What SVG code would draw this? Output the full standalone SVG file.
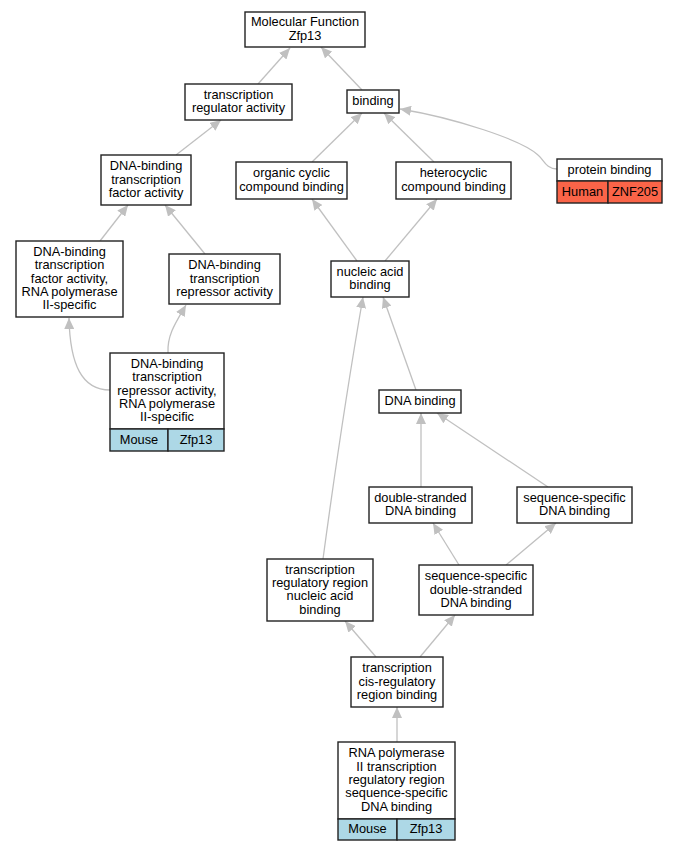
<svg xmlns="http://www.w3.org/2000/svg" width="677" height="851" viewBox="0 0 677 851">
<style>
.box{fill:#ffffff;stroke:#222222;stroke-width:1.4}
.mouse{fill:#add8e6;stroke:#222222;stroke-width:1.4}
.human{fill:#fa6448;stroke:#222222;stroke-width:1.4}
text{font-family:"Liberation Sans",Arial,sans-serif;font-size:12.8px;fill:#000000;text-anchor:middle}
.edge{fill:none;stroke:#c0c0c0;stroke-width:1.3;marker-end:url(#arr)}
</style>
<defs>
<marker id="arr" markerUnits="userSpaceOnUse" markerWidth="12" markerHeight="10" refX="11" refY="5" orient="auto" viewBox="0 0 12 10">
<path d="M0,0 L11,5 L0,10 z" fill="#c0c0c0"/>
</marker>
</defs>
<rect width="677" height="851" fill="#ffffff"/>
<g id="edges">
<path class="edge" d="M258,84 L290,48"/>
<path class="edge" d="M362,90 L321,47"/>
<path class="edge" d="M176,155 L221,120"/>
<path class="edge" d="M312,162 L362,113"/>
<path class="edge" d="M434,162 L384,113"/>
<path class="edge" d="M557,169 C546,169 544,160 538,155 C522,140 455,118 400,109"/>
<path class="edge" d="M100,241 L128,205"/>
<path class="edge" d="M205,254 L165,205"/>
<path class="edge" d="M357,261 L312,199"/>
<path class="edge" d="M385,261 L437,199"/>
<path class="edge" d="M110,390 C82,390 70,365 69,318"/>
<path class="edge" d="M168,353 C167,335 176,322 186,305"/>
<path class="edge" d="M416,390 L383,297"/>
<path class="edge" d="M421,487 L421,413"/>
<path class="edge" d="M548,487 L437,413"/>
<path class="edge" d="M459,565 L433,523"/>
<path class="edge" d="M506,565 L556,523"/>
<path class="edge" d="M376,657 L345,621"/>
<path class="edge" d="M420,657 L455,615"/>
<path class="edge" d="M397,742 L397,707"/>
<path class="edge" d="M323,559 C335,470 352,360 363,297"/>
</g>
<g id="n1"><rect class="box" x="245" y="12" width="120" height="35"/><text x="305" y="26.4">Molecular Function</text><text x="305" y="39.7">Zfp13</text></g>
<g id="n2"><rect class="box" x="185" y="84" width="107" height="36"/><text x="238.5" y="98.9">transcription</text><text x="238.5" y="112.2">regulator activity</text></g>
<g id="n3"><rect class="box" x="347" y="90" width="52" height="23"/><text x="373" y="105">binding</text></g>
<g id="n4"><rect class="box" x="101" y="155" width="90" height="50"/><text x="146" y="170.2">DNA-binding</text><text x="146" y="183.5">transcription</text><text x="146" y="196.8">factor activity</text></g>
<g id="n5"><rect class="box" x="236" y="162" width="111" height="37"/><text x="291.5" y="177.4">organic cyclic</text><text x="291.5" y="190.7">compound binding</text></g>
<g id="n6"><rect class="box" x="396" y="162" width="115" height="37"/><text x="453.5" y="177.4">heterocyclic</text><text x="453.5" y="190.7">compound binding</text></g>
<g id="n7"><rect class="box" x="557" y="159" width="105" height="22"/><rect class="human" x="557" y="181" width="51" height="22"/><rect class="human" x="608" y="181" width="54" height="22"/><text x="609.5" y="173.5">protein binding</text><text x="582.5" y="195.5">Human</text><text x="635" y="195.5">ZNF205</text></g>
<g id="n8"><rect class="box" x="16" y="241" width="107" height="76"/><text x="69.5" y="255.9">DNA-binding</text><text x="69.5" y="269.2">transcription</text><text x="69.5" y="282.5">factor activity,</text><text x="69.5" y="295.8">RNA polymerase</text><text x="69.5" y="309.1">II-specific</text></g>
<g id="n9"><rect class="box" x="169" y="254" width="111" height="50"/><text x="224.5" y="269.2">DNA-binding</text><text x="224.5" y="282.5">transcription</text><text x="224.5" y="295.8">repressor activity</text></g>
<g id="n10"><rect class="box" x="331" y="261" width="78" height="36"/><text x="370" y="275.9">nucleic acid</text><text x="370" y="289.2">binding</text></g>
<g id="n11"><rect class="box" x="110" y="353" width="114" height="76"/><rect class="mouse" x="110" y="429" width="58" height="22"/><rect class="mouse" x="168" y="429" width="56" height="22"/><text x="167" y="367.9">DNA-binding</text><text x="167" y="381.2">transcription</text><text x="167" y="394.5">repressor activity,</text><text x="167" y="407.8">RNA polymerase</text><text x="167" y="421.1">II-specific</text><text x="139" y="443.5">Mouse</text><text x="196" y="443.5">Zfp13</text></g>
<g id="n12"><rect class="box" x="379" y="390" width="82" height="23"/><text x="420" y="405">DNA binding</text></g>
<g id="n13"><rect class="box" x="369" y="487" width="103" height="36"/><text x="420.5" y="501.9">double-stranded</text><text x="420.5" y="515.2">DNA binding</text></g>
<g id="n14"><rect class="box" x="517" y="487" width="115" height="36"/><text x="574.5" y="501.9">sequence-specific</text><text x="574.5" y="515.2">DNA binding</text></g>
<g id="n15"><rect class="box" x="267" y="559" width="106" height="62"/><text x="320" y="573.6">transcription</text><text x="320" y="586.9">regulatory region</text><text x="320" y="600.2">nucleic acid</text><text x="320" y="613.5">binding</text></g>
<g id="n16"><rect class="box" x="419" y="565" width="114" height="50"/><text x="476" y="580.2">sequence-specific</text><text x="476" y="593.5">double-stranded</text><text x="476" y="606.8">DNA binding</text></g>
<g id="n17"><rect class="box" x="351" y="657" width="92" height="50"/><text x="397" y="672.2">transcription</text><text x="397" y="685.5">cis-regulatory</text><text x="397" y="698.8">region binding</text></g>
<g id="n18"><rect class="box" x="338" y="742" width="117" height="77"/><rect class="mouse" x="338" y="819" width="59" height="21"/><rect class="mouse" x="397" y="819" width="58" height="21"/><text x="396.5" y="757.4">RNA polymerase</text><text x="396.5" y="770.7">II transcription</text><text x="396.5" y="784">regulatory region</text><text x="396.5" y="797.3">sequence-specific</text><text x="396.5" y="810.6">DNA binding</text><text x="367.5" y="833">Mouse</text><text x="426" y="833">Zfp13</text></g>
</svg>
